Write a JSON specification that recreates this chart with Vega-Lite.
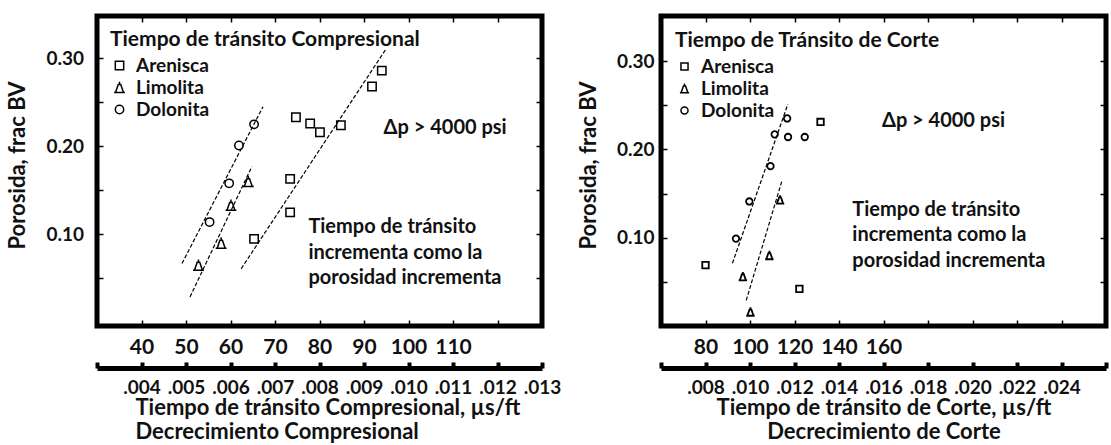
{
  "$schema": "https://vega.github.io/schema/vega-lite/v6.json",
  "background": "white",
  "padding": {"left": 4, "top": 12, "right": 0, "bottom": 0},
  "spacing": 10,
  "resolve": {"scale": {"shape": "independent"}, "legend": {"shape": "independent"}},
  "config": {
    "font": "Lato",
    "view": {"stroke": "black", "strokeWidth": 5},
    "axis": {
      "grid": false, "domain": false, "tickColor": "black", "tickWidth": 1.5, "tickSize": -6,
      "labelFont": "Lato", "labelColor": "#111", "labelFontWeight": "bold", "labelFontSize": 19,
      "labelOverlap": false, "labelFlush": false,
      "titleFont": "Lato", "titleColor": "#111", "titleFontWeight": "bold", "titleFontSize": 21
    },
    "legend": {
      "orient": "top-left", "padding": 0, "titleFont": "Lato", "titleFontSize": 21, "titleFontWeight": "bold",
      "titleColor": "#111", "titlePadding": 6, "titleLimit": 400, "labelFont": "Lato", "labelFontSize": 19, "labelFontWeight": "bold",
      "labelColor": "#111", "symbolStrokeColor": "black", "symbolFillColor": "transparent", "symbolStrokeWidth": 1.5,
      "rowPadding": 2
    }
  },
  "hconcat": [
    {
      "width": 445, "height": 310,
      "layer": [
        {
          "data": {"values": [
            {"rock": "Dolonita", "t": 49.1, "phi": 0.067}, {"rock": "Dolonita", "t": 67.3, "phi": 0.245},
            {"rock": "Limolita", "t": 50.9, "phi": 0.029}, {"rock": "Limolita", "t": 64.8, "phi": 0.177},
            {"rock": "Arenisca", "t": 62.4, "phi": 0.061}, {"rock": "Arenisca", "t": 95.0, "phi": 0.311}
          ]},
          "mark": {"type": "line", "strokeDash": [4, 2], "strokeWidth": 1.2, "color": "black"},
          "encoding": {
            "x": {"field": "t", "type": "quantitative", "scale": {"domain": [30, 130], "nice": false, "zero": false},
              "axis": {"orient": "top", "values": [40, 50, 60, 70, 80, 90, 100, 110, 120], "labels": false, "title": null}},
            "y": {"field": "phi", "type": "quantitative", "scale": {"domain": [-0.004, 0.348], "nice": false, "zero": false},
              "axis": {"orient": "right", "values": [0.05, 0.1, 0.15, 0.2, 0.25, 0.3], "labels": false, "title": null}},
            "detail": {"field": "rock"}
          }
        },
        {
          "data": {"values": [
            {"rock": "Arenisca", "t": 65.3, "phi": 0.095}, {"rock": "Arenisca", "t": 73.4, "phi": 0.125},
            {"rock": "Arenisca", "t": 73.4, "phi": 0.163}, {"rock": "Arenisca", "t": 74.7, "phi": 0.233},
            {"rock": "Arenisca", "t": 77.9, "phi": 0.226}, {"rock": "Arenisca", "t": 80.1, "phi": 0.216},
            {"rock": "Arenisca", "t": 84.8, "phi": 0.224}, {"rock": "Arenisca", "t": 91.8, "phi": 0.268},
            {"rock": "Arenisca", "t": 94.0, "phi": 0.286},
            {"rock": "Limolita", "t": 52.8, "phi": 0.065}, {"rock": "Limolita", "t": 57.9, "phi": 0.090},
            {"rock": "Limolita", "t": 60.1, "phi": 0.133}, {"rock": "Limolita", "t": 64.0, "phi": 0.160},
            {"rock": "Dolonita", "t": 55.3, "phi": 0.114}, {"rock": "Dolonita", "t": 59.7, "phi": 0.158},
            {"rock": "Dolonita", "t": 61.9, "phi": 0.201}, {"rock": "Dolonita", "t": 65.3, "phi": 0.225}
          ]},
          "mark": {"type": "point", "filled": false, "color": "black", "strokeWidth": 1.5, "opacity": 1, "size": 70},
          "encoding": {
            "x": {"field": "t", "type": "quantitative", "scale": {"domain": [30, 130], "nice": false, "zero": false},
              "axis": {"orient": "bottom", "values": [40, 50, 60, 70, 80, 90, 100, 110, 120], "labelPadding": 16, "labelFontSize": 21,
                "labelExpr": "datum.value > 115 ? '' : datum.label", "title": null}},
            "y": {"field": "phi", "type": "quantitative", "scale": {"domain": [-0.004, 0.348], "nice": false, "zero": false},
              "axis": {"orient": "left", "values": [0.05, 0.1, 0.15, 0.2, 0.25, 0.3], "labelPadding": 19.5,
                "labelExpr": "abs(datum.value * 10 - round(datum.value * 10)) < 0.01 ? format(datum.value, '.2f') : ''",
                "title": "Porosida, frac BV", "titleFontSize": 22, "titlePadding": 16, "titleY": 149}},
            "shape": {"field": "rock", "type": "nominal",
              "scale": {"domain": ["Arenisca", "Limolita", "Dolonita"],
                "range": ["square", "M-1.3,1.2L1.3,1.2M-0.95,1.2L-0.3,-0.7L0.3,-0.7L0.95,1.2M0,-0.7L0,-1.4", "circle"]},
              "legend": {"title": "Tiempo de tránsito Compresional", "offset": 13, "symbolSize": 70, "symbolOffset": 0, "labelOffset": 7}}
          }
        },
        {
          "data": {"values": [
            {"t": 94.4, "phi": 0.221, "label": "Δp > 4000 psi"},
            {"t": 77.5, "phi": 0.108, "label": "Tiempo de tránsito"},
            {"t": 77.5, "phi": 0.079, "label": "incrementa como la"},
            {"t": 77.5, "phi": 0.051, "label": "porosidad incrementa"}
          ]},
          "mark": {"type": "text", "align": "left", "baseline": "middle", "fontSize": 20, "fontWeight": "bold", "font": "Lato", "color": "#111"},
          "encoding": {
            "x": {"field": "t", "type": "quantitative", "scale": {"domain": [30, 130], "nice": false, "zero": false}, "axis": null},
            "y": {"field": "phi", "type": "quantitative", "scale": {"domain": [-0.004, 0.348], "nice": false, "zero": false}, "axis": null},
            "text": {"field": "label"}
          }
        },
        {
          "data": {"values": [{"d": 0.003}, {"d": 0.013}]},
          "mark": {"type": "point", "opacity": 0},
          "encoding": {
            "x": {"field": "d", "type": "quantitative", "scale": {"domain": [0.003, 0.013], "nice": false, "zero": false},
              "axis": {"orient": "bottom", "offset": 42, "domain": true, "domainWidth": 5, "domainColor": "black",
                "values": [0.003, 0.004, 0.005, 0.006, 0.007, 0.008, 0.009, 0.010, 0.011, 0.012, 0.013],
                "tickWidth": 4, "tickSize": -6, "labelPadding": 16, "labelFontSize": 19,
                "labelExpr": "datum.value < 0.0035 ? '' : slice(format(datum.value, '.3f'), 1)",
                "title": ["Tiempo de tránsito Compresional, µs/ft", "Decrecimiento Compresional"],
                "titleFontSize": 22, "titleFontWeight": "bold",
                "titleAlign": "left", "titleAnchor": "start", "titleX": 38, "titlePadding": 0, "titleLineHeight": 24}}
          }
        }
      ],
      "resolve": {"scale": {"x": "independent"}, "axis": {"x": "independent", "y": "independent"}}
    },
    {
      "width": 445, "height": 310,
      "layer": [
        {
          "data": {"values": [
            {"rock": "Dolonita", "t": 92.1, "phi": 0.071}, {"rock": "Dolonita", "t": 117.0, "phi": 0.251},
            {"rock": "Limolita", "t": 98.3, "phi": 0.029}, {"rock": "Limolita", "t": 114.3, "phi": 0.164}
          ]},
          "mark": {"type": "line", "strokeDash": [4, 2], "strokeWidth": 1.2, "color": "black"},
          "encoding": {
            "x": {"field": "t", "type": "quantitative", "scale": {"domain": [60, 260], "nice": false, "zero": false},
              "axis": {"orient": "top", "values": [80, 100, 120, 140, 160, 180, 200, 220, 240], "labels": false, "title": null}},
            "y": {"field": "phi", "type": "quantitative", "scale": {"domain": [0, 0.351], "nice": false, "zero": false},
              "axis": {"orient": "right", "values": [0.05, 0.1, 0.15, 0.2, 0.25, 0.3], "labels": false, "title": null}},
            "detail": {"field": "rock"}
          }
        },
        {
          "data": {"values": [
            {"rock": "Arenisca", "t": 80.0, "phi": 0.069}, {"rock": "Arenisca", "t": 122.2, "phi": 0.042},
            {"rock": "Arenisca", "t": 131.7, "phi": 0.231},
            {"rock": "Limolita", "t": 96.8, "phi": 0.056}, {"rock": "Limolita", "t": 108.7, "phi": 0.080},
            {"rock": "Limolita", "t": 113.5, "phi": 0.143}, {"rock": "Limolita", "t": 100.2, "phi": 0.016},
            {"rock": "Dolonita", "t": 93.7, "phi": 0.099}, {"rock": "Dolonita", "t": 99.7, "phi": 0.141},
            {"rock": "Dolonita", "t": 109.2, "phi": 0.181}, {"rock": "Dolonita", "t": 111.1, "phi": 0.217},
            {"rock": "Dolonita", "t": 116.7, "phi": 0.235}, {"rock": "Dolonita", "t": 117.1, "phi": 0.214},
            {"rock": "Dolonita", "t": 124.6, "phi": 0.214}
          ]},
          "mark": {"type": "point", "filled": false, "color": "black", "strokeWidth": 1.8, "opacity": 1, "size": 42},
          "encoding": {
            "x": {"field": "t", "type": "quantitative", "scale": {"domain": [60, 260], "nice": false, "zero": false},
              "axis": {"orient": "bottom", "values": [80, 100, 120, 140, 160, 180, 200, 220, 240], "labelPadding": 16, "labelFontSize": 21,
                "labelExpr": "datum.value > 170 ? '' : datum.label", "title": null}},
            "y": {"field": "phi", "type": "quantitative", "scale": {"domain": [0, 0.351], "nice": false, "zero": false},
              "axis": {"orient": "left", "values": [0.05, 0.1, 0.15, 0.2, 0.25, 0.3], "labelPadding": 13,
                "labelExpr": "abs(datum.value * 10 - round(datum.value * 10)) < 0.01 ? format(datum.value, '.2f') : ''",
                "title": "Porosida, frac BV", "titleFontSize": 22, "titlePadding": 16, "titleY": 149}},
            "shape": {"field": "rock", "type": "nominal",
              "scale": {"domain": ["Arenisca", "Limolita", "Dolonita"],
                "range": ["square", "M-1.3,1.2L1.3,1.2M-0.95,1.2L-0.3,-0.7L0.3,-0.7L0.95,1.2M0,-0.7L0,-1.4", "circle"]},
              "legend": {"title": "Tiempo de Tránsito de Corte", "offset": 14, "symbolSize": 50, "symbolOffset": 0, "labelOffset": 7}}
          }
        },
        {
          "data": {"values": [
            {"t": 159.3, "phi": 0.232, "label": "Δp > 4000 psi"},
            {"t": 146.0, "phi": 0.131, "label": "Tiempo de tránsito"},
            {"t": 146.0, "phi": 0.103, "label": "incrementa como la"},
            {"t": 146.0, "phi": 0.0735, "label": "porosidad incrementa"}
          ]},
          "mark": {"type": "text", "align": "left", "baseline": "middle", "fontSize": 20, "fontWeight": "bold", "font": "Lato", "color": "#111"},
          "encoding": {
            "x": {"field": "t", "type": "quantitative", "scale": {"domain": [60, 260], "nice": false, "zero": false}, "axis": null},
            "y": {"field": "phi", "type": "quantitative", "scale": {"domain": [0, 0.351], "nice": false, "zero": false}, "axis": null},
            "text": {"field": "label"}
          }
        },
        {
          "data": {"values": [{"d": 0.006}, {"d": 0.026}]},
          "mark": {"type": "point", "opacity": 0},
          "encoding": {
            "x": {"field": "d", "type": "quantitative", "scale": {"domain": [0.006, 0.026], "nice": false, "zero": false},
              "axis": {"orient": "bottom", "offset": 42, "domain": true, "domainWidth": 5, "domainColor": "black",
                "values": [0.006, 0.008, 0.010, 0.012, 0.014, 0.016, 0.018, 0.020, 0.022, 0.024, 0.026],
                "tickWidth": 4, "tickSize": -6, "labelPadding": 16, "labelFontSize": 19,
                "labelExpr": "(datum.value < 0.007 || datum.value > 0.025) ? '' : slice(format(datum.value, '.3f'), 1)",
                "title": ["Tiempo de tránsito de Corte, µs/ft", "Decrecimiento de Corte"],
                "titleFontSize": 22, "titleFontWeight": "bold",
                "titlePadding": 0, "titleLineHeight": 24}}
          }
        }
      ],
      "resolve": {"scale": {"x": "independent"}, "axis": {"x": "independent", "y": "independent"}}
    }
  ]
}
